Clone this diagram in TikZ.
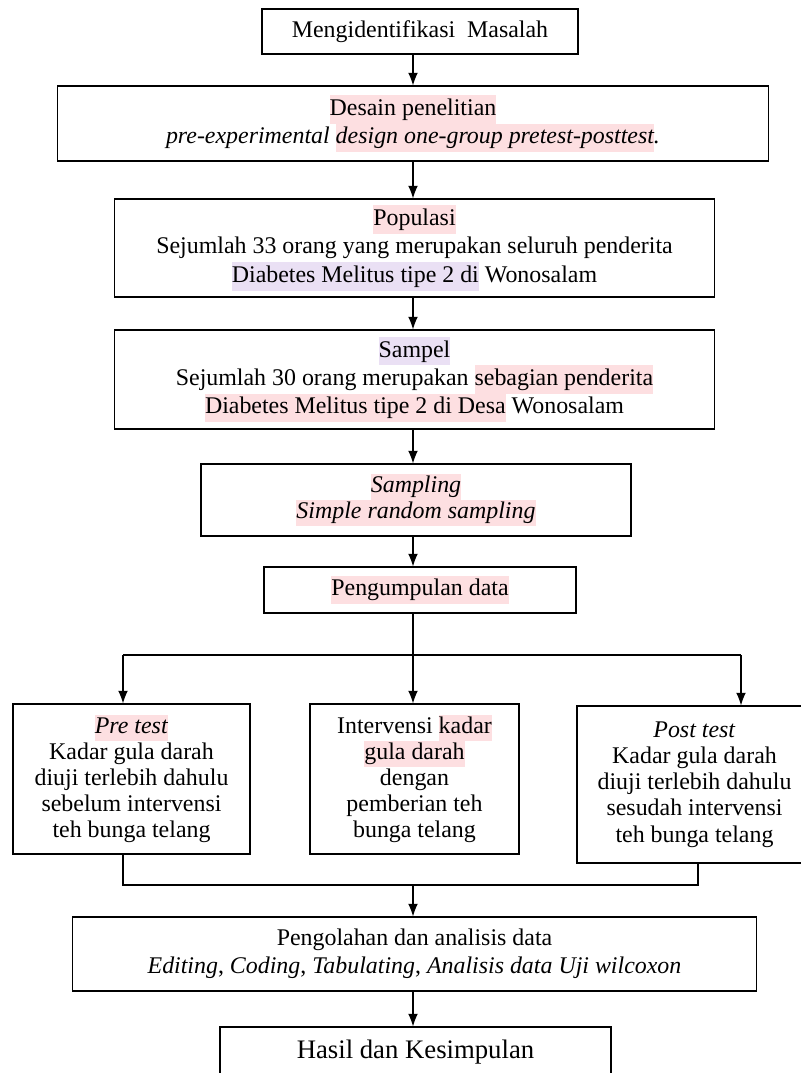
\documentclass[tikz,border=0pt]{standalone}
\usepackage{fontspec}
\setmainfont{Liberation Serif}
\usetikzlibrary{arrows.meta,positioning}
\definecolor{hlpink}{RGB}{253,223,225}
\definecolor{hlpurple}{RGB}{234,224,244}
% highlighted words
\newcommand{\hlp}[1]{{\setlength{\fboxsep}{0pt}\colorbox{hlpink}{\strut#1}}}
\newcommand{\hlv}[1]{{\setlength{\fboxsep}{0pt}\colorbox{hlpurple}{\strut#1}}}
\tikzset{
    %Define standard arrow tip
    >={Latex[length=9pt,width=7pt]},
    %Define style for boxes
    stepbox/.style={
           rectangle,
           draw=black, line width=0.8pt,
           inner sep=0pt,
           align=center,
           font=\fontsize{17}{20}\selectfont},
    tallbox/.style={
           stepbox,
           font=\fontsize{17}{18.6}\selectfont},
    % Define arrow style
    pil/.style={
           ->,
           line width=0.8pt},
    garis/.style={
           line width=0.8pt}
}
\begin{document}
\begin{tikzpicture}[x=0.025cm,y=-0.025cm]
\useasboundingbox (0,0) rectangle (801,1073);
\clip (0,0) rectangle (801,1073);
\node[stepbox, minimum width=7.9cm, minimum height=1.125cm](ident) at (420,31.5){Mengidentifikasi\ \ Masalah};
\node[stepbox, minimum width=17.75cm, minimum height=1.875cm](desain) at (413,123.5){\hlp{Desain penelitian}\\ \textit{pre-experimental \hlp{design one-group pretest-posttest}.}};
\node[stepbox, minimum width=14.975cm, minimum height=2.45cm, font=\fontsize{17}{20.3}\selectfont](populasi) at (414.5,248){\hlp{Populasi}\\ Sejumlah 33 orang yang merupakan seluruh penderita\\ \hlv{Diabetes Melitus tipe 2 di} Wonosalam};
\node[stepbox, minimum width=14.975cm, minimum height=2.475cm](sampel) at (414.5,379.5){\hlv{Sampel}\\ Sejumlah 30 orang merupakan \hlp{sebagian penderita}\\ \hlp{Diabetes Melitus tipe 2 di Desa} Wonosalam};
\node[stepbox, minimum width=10.75cm, minimum height=1.8cm, font=\fontsize{17}{18.6}\selectfont](sampling) at (416,500){\hlp{\textit{Sampling}}\\ \hlp{\textit{Simple random sampling}}};
\node[stepbox, minimum width=7.8cm, minimum height=1.15cm](kumpul) at (420,590){\hlp{Pengumpulan data}};
\node[tallbox, minimum width=5.925cm, minimum height=3.75cm](pre) at (131.5,779){\hlp{\textit{Pre test}}\\ Kadar gula darah\\ diuji terlebih dahulu\\ sebelum intervensi\\ teh bunga telang};
\node[tallbox, minimum width=5.225cm, minimum height=3.75cm](interv) at (414.5,779){Intervensi \hlp{kadar}\\ \hlp{gula darah}\\ dengan\\ pemberian teh\\ bunga telang};
\node[tallbox, minimum width=5.875cm, minimum height=3.925cm](post) at (694.5,784.5){\textit{Post test}\\ Kadar gula darah\\ diuji terlebih dahulu\\ sesudah intervensi\\ teh bunga telang};
\node[stepbox, minimum width=17.075cm, minimum height=1.85cm](olah) at (414.5,954){Pengolahan dan analisis data\\ \textit{Editing}, \textit{Coding}, \textit{Tabulating}, \textit{Analisis data Uji wilcoxon}};
\node[stepbox, minimum width=9.775cm, minimum height=1.25cm, font=\fontsize{19}{23}\selectfont](hasil) at (415.5,1052){Hasil dan Kesimpulan};
% spine and branches
\coordinate (spine) at (413,0);
\coordinate (split) at (413,655);
\coordinate (bl) at (123,655);
\coordinate (br) at (741,655);
\coordinate (ml) at (123,885);
\coordinate (mr) at (698,885);
\draw[pil] (ident.south -| spine) -- (desain.north -| spine);
\draw[pil] (desain.south -| spine) -- (populasi.north -| spine);
\draw[pil] (populasi.south -| spine) -- (sampel.north -| spine);
\draw[pil] (sampel.south -| spine) -- (sampling.north -| spine);
\draw[pil] (sampling.south -| spine) -- (kumpul.north -| spine);
\draw[garis] (kumpul.south -| spine) -- (split);
\draw[garis] (bl) -- (br);
\draw[pil] (bl) -- (bl |- pre.north);
\draw[pil] (split) -- (split |- interv.north);
\draw[pil] (br) -- (br |- post.north);
\draw[garis] (ml |- pre.south) -- (ml) -- (mr) -- (mr |- post.south);
\draw[pil] (spine |- ml) -- (spine |- olah.north);
\draw[pil] (olah.south -| spine) -- (hasil.north -| spine);
\end{tikzpicture}
\end{document}
